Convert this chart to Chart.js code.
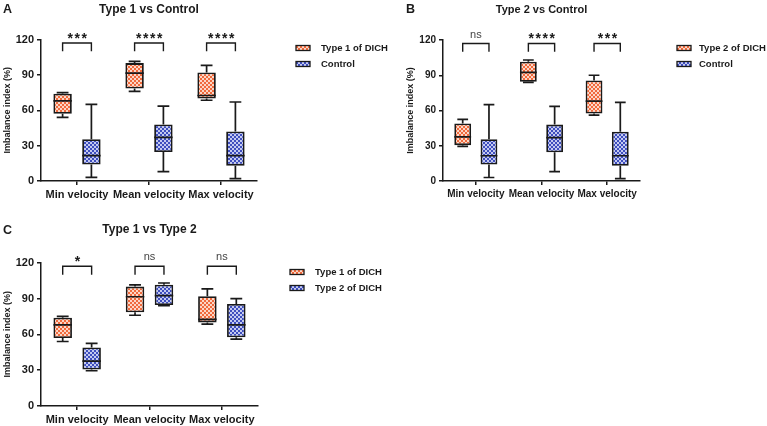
<!DOCTYPE html>
<html>
<head>
<meta charset="utf-8">
<title>Imbalance index</title>
<script src="https://cdn.jsdelivr.net/npm/chart.js@4.4.1/dist/chart.umd.min.js"></script>
<style>
  html, body { margin: 0; padding: 0; background: #fff; }
  body { width: 767px; height: 426px; position: relative; overflow: hidden; }
  canvas { position: absolute; }
</style>
</head>
<body>
<canvas id="chartA" width="395" height="205" style="left:0;top:0"></canvas>
<canvas id="chartB" width="384" height="205" style="left:383px;top:0"></canvas>
<canvas id="chartC" width="395" height="208" style="left:0;top:218px"></canvas>
<script>
// Les categories sur l'axe des x
const categories = ["Min velocity", "Mean velocity", "Max velocity"]
const yTicks = [0, 30, 60, 90, 120]

// Type 1 of DICH : min, Q1, mediane, Q3, max
const type1Min = [54, 76, 68.5]
const type1Q1 = [57, 78.5, 70]
const type1Med = [68, 91.5, 72.5]
const type1Q3 = [74, 100, 92]
const type1Max = [75, 101.5, 98]

// Type 2 of DICH
const type2Min = [29.5, 84, 56]
const type2Q1 = [30.5, 84.5, 57.5]
const type2Med = [37.5, 92.5, 68]
const type2Q3 = [49, 101.5, 85.5]
const type2Max = [52.5, 103, 90]

// Control
const controlMin = [3, 8, 2]
const controlQ1 = [14, 24.5, 13]
const controlMed = [21.5, 37, 21.5]
const controlQ3 = [35.5, 48, 42]
const controlMax = [65, 63.5, 67]

// Les etoiles de significativite
const sigA = ["***", "****", "****"]
const sigB = ["ns", "****", "***"]
const sigC = ["*", "ns", "ns"]

const FONT = "'Liberation Sans', Arial, sans-serif"
const INK = "#1a1a1a"

// Motif a damier pour remplir les boites
function makePattern(base, dot) {
    const c = document.createElement("canvas")
    c.width = 4
    c.height = 4
    const g = c.getContext("2d")
    g.fillStyle = base
    g.fillRect(0, 0, 4, 4)
    g.fillStyle = dot
    g.fillRect(0, 0, 2, 2)
    g.fillRect(2, 2, 2, 2)
    return g.createPattern(c, "repeat")
}
const orangeFill = makePattern("#F06A3C", "#FCD6C6")
const blueFill = makePattern("#3E4EBE", "#C3C9F0")

const type1 = { min: type1Min, q1: type1Q1, med: type1Med, q3: type1Q3, max: type1Max }
const type2 = { min: type2Min, q1: type2Q1, med: type2Med, q3: type2Q3, max: type2Max }
const control = { min: controlMin, q1: controlQ1, med: controlMed, q3: controlQ3, max: controlMax }

// Moustaches et medianes, dessinees avec l'echelle y
const whiskerPlugin = {
    id: "whiskers",
    afterDatasetsDraw(chart) {
        const ctx = chart.ctx
        const y = chart.scales.y
        ctx.save()
        ctx.strokeStyle = INK
        ctx.lineWidth = 1.7
        chart.data.datasets.forEach((ds, i) => {
            chart.getDatasetMeta(i).data.forEach((bar, j) => {
                const x = bar.x
                const half = bar.width / 2
                const cap = bar.width * 0.32
                const pMin = y.getPixelForValue(ds.stats.min[j])
                const pQ1 = y.getPixelForValue(ds.stats.q1[j])
                const pMed = y.getPixelForValue(ds.stats.med[j])
                const pQ3 = y.getPixelForValue(ds.stats.q3[j])
                const pMax = y.getPixelForValue(ds.stats.max[j])
                ctx.beginPath()
                ctx.moveTo(x, pQ3); ctx.lineTo(x, pMax)
                ctx.moveTo(x - cap, pMax); ctx.lineTo(x + cap, pMax)
                ctx.moveTo(x, pQ1); ctx.lineTo(x, pMin)
                ctx.moveTo(x - cap, pMin); ctx.lineTo(x + cap, pMin)
                ctx.moveTo(x - half, pMed); ctx.lineTo(x + half, pMed)
                ctx.stroke()
            })
        })
        ctx.restore()
    }
}

// Crochets de comparaison, legende et lettre du panneau
const extrasPlugin = {
    id: "extras",
    afterDraw(chart, args, opts) {
        const ctx = chart.ctx
        const y = chart.scales.y
        const m0 = chart.getDatasetMeta(0).data
        const m1 = chart.getDatasetMeta(1).data
        ctx.save()
        ctx.strokeStyle = INK
        ctx.fillStyle = INK
        ctx.lineWidth = 1.4
        opts.sig.forEach((s, j) => {
            const x1 = m0[j].x
            const x2 = m1[j].x
            const top = y.getPixelForValue(117)
            const leg = y.getPixelForValue(110)
            ctx.beginPath()
            ctx.moveTo(x1, leg); ctx.lineTo(x1, top); ctx.lineTo(x2, top); ctx.lineTo(x2, leg)
            ctx.stroke()
            ctx.textAlign = "center"
            ctx.textBaseline = "alphabetic"
            if (s === "ns") {
                ctx.font = "11px " + FONT
                ctx.fillStyle = "#444"
                ctx.letterSpacing = "0px"
                ctx.fillText(s, (x1 + x2) / 2, top - 6)
            } else {
                ctx.font = "bold 14px " + FONT
                ctx.fillStyle = INK
                ctx.letterSpacing = "1.5px"
                ctx.fillText(s, (x1 + x2) / 2 + 1, top - 0.5)
            }
        })
        ctx.letterSpacing = "0px"
        // Legende
        chart.data.datasets.forEach((ds, i) => {
            const ly = opts.legendY + i * 16
            ctx.fillStyle = ds.backgroundColor
            ctx.fillRect(opts.legendX, ly - 2.5, 14, 5)
            ctx.strokeStyle = INK
            ctx.lineWidth = 1.3
            ctx.strokeRect(opts.legendX, ly - 2.5, 14, 5)
            ctx.fillStyle = INK
            ctx.font = "bold 9.5px " + FONT
            ctx.textAlign = "left"
            ctx.textBaseline = "middle"
            ctx.fillText(ds.label, opts.legendX + opts.textGap, ly + 0.5)
        })
        // Lettre du panneau
        ctx.font = "bold 12.5px " + FONT
        ctx.textAlign = "left"
        ctx.textBaseline = "alphabetic"
        ctx.fillText(opts.letter, opts.letterX, opts.letterY)
        ctx.restore()
    }
}

// Fonction pour creer un panneau
function makePanel(id, cfg) {
    const canvas = document.getElementById(id)
    const W = canvas.width
    const H = canvas.height
    const area = cfg.area // left, right, top, bottom de la zone du graphique
    const titleLine = cfg.titleSize * 1.2
    return new Chart(canvas, {
        type: "bar",
        data: {
            labels: categories,
            datasets: cfg.groups.map(g => ({
                label: g.label,
                data: g.stats.q1.map((v, i) => [v, g.stats.q3[i]]),
                stats: g.stats,
                backgroundColor: g.fill,
                borderColor: INK,
                borderWidth: 1.8,
                borderSkipped: false,
                categoryPercentage: 0.8,
                barPercentage: 0.64
            }))
        },
        options: {
            responsive: false,
            animation: false,
            layout: { padding: { left: 0, right: W - area.right, top: 0, bottom: 0 } },
            scales: {
                x: {
                    grid: { drawOnChartArea: false, offset: false, tickLength: 4, color: INK, lineWidth: 1.5 },
                    border: { color: INK, width: 1.5 },
                    ticks: { color: INK, padding: 3, maxRotation: 0, autoSkip: false, font: { family: FONT, size: cfg.tickSize, weight: "bold" } },
                    afterFit: s => { s.height = H - area.bottom }
                },
                y: {
                    min: 0,
                    max: 120,
                    afterBuildTicks: s => { s.ticks = yTicks.map(v => ({ value: v })) },
                    grid: { drawOnChartArea: false, tickLength: 4, color: INK, lineWidth: 1.5 },
                    border: { color: INK, width: 1.5 },
                    ticks: { color: INK, padding: 3, font: { family: FONT, size: cfg.tickSize, weight: "bold" } },
                    title: {
                        display: true,
                        text: "Imbalance index (%)",
                        color: INK,
                        padding: { top: cfg.yTitlePad, bottom: 0 },
                        font: { family: FONT, size: 9, weight: "bold", lineHeight: 1.2 }
                    },
                    afterFit: s => { s.width = area.left }
                }
            },
            plugins: {
                legend: { display: false },
                tooltip: { enabled: false },
                title: {
                    display: true,
                    text: cfg.title,
                    fullSize: false,
                    color: INK,
                    font: { family: FONT, size: cfg.titleSize, weight: "bold", lineHeight: 1.2 },
                    padding: { top: cfg.titleTop, bottom: area.top - cfg.titleTop - titleLine }
                },
                extras: cfg.extras
            }
        },
        plugins: [whiskerPlugin, extrasPlugin]
    })
}

makePanel("chartA", {
    title: "Type 1 vs Control",
    area: { left: 41, right: 257, top: 39.5, bottom: 181 },
    yTitlePad: 2.5,
    titleTop: 2.5,
    titleSize: 12,
    tickSize: 11,
    groups: [
        { label: "Type 1 of DICH", stats: type1, fill: orangeFill },
        { label: "Control", stats: control, fill: blueFill }
    ],
    extras: { sig: sigA, legendX: 296, legendY: 48, textGap: 25, letter: "A", letterX: 3, letterY: 13 }
})

makePanel("chartB", {
    title: "Type 2 vs Control",
    area: { left: 60, right: 257, top: 40, bottom: 181 },
    yTitlePad: 22.5,
    titleTop: 3,
    titleSize: 11,
    tickSize: 10,
    groups: [
        { label: "Type 2 of DICH", stats: type2, fill: orangeFill },
        { label: "Control", stats: control, fill: blueFill }
    ],
    extras: { sig: sigB, legendX: 294, legendY: 48, textGap: 22, letter: "B", letterX: 23, letterY: 12.5 }
})

makePanel("chartC", {
    title: "Type 1 vs Type 2",
    area: { left: 41, right: 258, top: 44.7, bottom: 188 },
    yTitlePad: 2.5,
    titleTop: 4.5,
    titleSize: 12,
    tickSize: 11,
    groups: [
        { label: "Type 1 of DICH", stats: type1, fill: orangeFill },
        { label: "Type 2 of DICH", stats: type2, fill: blueFill }
    ],
    extras: { sig: sigC, legendX: 290, legendY: 54, textGap: 25, letter: "C", letterX: 3, letterY: 15.5 }
})
</script>
</body>
</html>
